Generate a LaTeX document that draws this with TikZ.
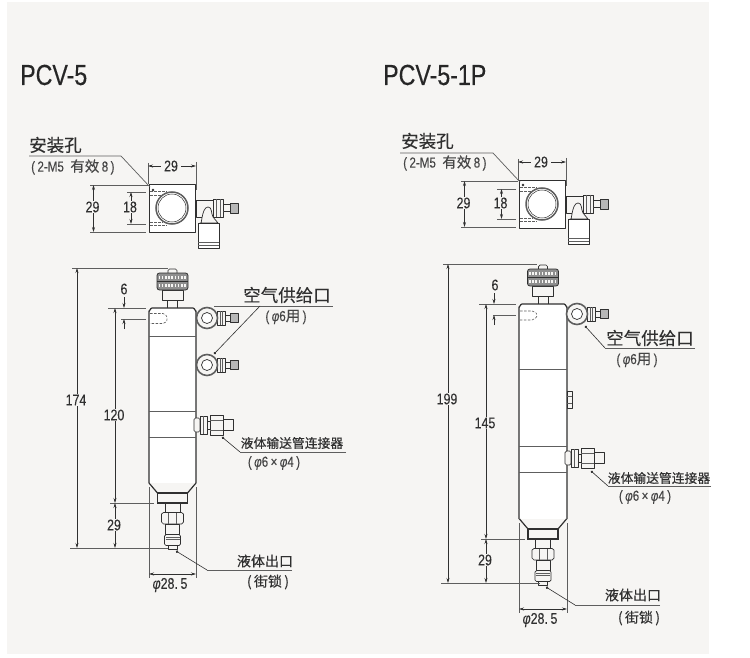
\documentclass[tikz,border=0pt]{standalone}
\usepackage{fontspec}
\setmainfont{Liberation Sans}
\newfontfamily\cjk{Noto Sans CJK SC}
\newfontfamily\cjkb[FakeBold=0.35]{Noto Sans CJK SC}
\newfontfamily\cjkm[FakeBold=0.15]{Noto Sans CJK SC}
\newfontfamily\titlefont[FakeStretch=0.8,FakeBold=0.25]{Liberation Sans}
\newfontfamily\narrow[FakeStretch=0.8,FakeBold=0.1]{Liberation Sans}
\usetikzlibrary{arrows.meta}
\definecolor{pagebg}{HTML}{F6F5F3}
\definecolor{ink}{HTML}{303030}
\definecolor{soft}{HTML}{5E5E5E}
\tikzset{
  x=1pt,y=-1pt,
  part/.style={draw=ink,line width=0.7pt,fill=pagebg,line join=round},
  partw/.style={draw=ink,line width=0.7pt,fill=white,line join=round},
  partg/.style={draw=ink,line width=0.7pt,fill=soft!45,line join=round},
  thin part/.style={draw=soft,line width=0.5pt},
  hidden/.style={draw=soft,line width=0.6pt,dash pattern=on 2.5pt off 1.5pt},
  ext/.style={draw=soft,line width=0.6pt},
  dimline/.style={draw=ink,line width=0.6pt,{Stealth[length=5pt,width=3pt]}-{Stealth[length=5pt,width=3pt]}},
  outarrow/.style={draw=ink,line width=0.6pt,-{Stealth[length=5pt,width=3pt]}},
  dimtext/.style={font=\narrow\fontsize{15.5}{16}\selectfont,text=ink,fill=pagebg,inner sep=1pt},
  title/.style={font=\titlefont\fontsize{29}{30}\selectfont,text=black!85,inner sep=0pt,anchor=west},
  bigcjk/.style={font=\cjkb\fontsize{17.5}{18}\selectfont,text=ink,inner sep=0pt},
  aircjk/.style={font=\cjkm\fontsize{17.5}{18}\selectfont,text=ink,inner sep=0pt},
  midcjk/.style={font=\cjkb\fontsize{12.8}{14}\selectfont,text=ink,inner sep=0pt},
  outcjk/.style={font=\cjkm\fontsize{14}{15}\selectfont,text=ink,inner sep=0pt},
  subtext/.style={font=\narrow\fontsize{14.5}{15}\selectfont,text=ink!90,inner sep=0pt},
  leader/.style={draw=soft,line width=0.9pt},
  leaderd/.style={draw=ink,line width=0.6pt,-{Circle[length=2.6pt]}},
}
\newcommand{\cj}[1]{{\cjkm\fontsize{14.5}{15}\selectfont #1}}
\newcommand{\phisym}{{\itshape φ}}
% top view: #1,#2 = upper left corner of the square
\newcommand{\topview}[2]{\begin{scope}[shift={(#1,#2)}]
  \draw[partw,line width=1pt] (0,0) rectangle (46.5,47);
  \draw[draw=soft,line width=1.5pt] (23,23) circle (16);
  \draw[draw=ink,line width=0.5pt] (23,23) circle (14);
  \draw[hidden] (1,6.5) -- (18,6.5) (1,10) -- (14,10) (1,37) -- (14,37) (1,40) -- (18,40);
  % elbow
  \draw[part] (47,15) -- (64,15) -- (64,32) -- (47,32) -- cycle;
  \draw[part] (64,14) rectangle (74,32);
  \draw[thin part] (67.5,14) -- (67.5,32) (71,14) -- (71,32);
  \draw[part] (74,19.5) rectangle (81,26.5);
  \draw[partg] (81,18) rectangle (89,28);
  \draw[part] (51,38) to[out=-75,in=180] (59,22) to[out=0,in=120] (64,32) -- (69,38) -- cycle;
  \draw[partw] (49,38) rectangle (70,63);
  \draw[thin part] (49,57) -- (70,57) (49,60) -- (70,60);
\end{scope}}
% knob: #1 = centre x, #2 = top of the body
\newcommand{\knob}[2]{\begin{scope}[shift={(#1,#2)}]
  \draw[part] (-5,-8) rectangle (5,0);
  \draw[part] (-10.5,-18) rectangle (10.5,-8);
  \draw[part,rounded corners=1.5pt] (-4.5,-39) rectangle (4.5,-33);
  \draw[draw=ink,line width=0.8pt,fill=soft!70,rounded corners=2.5pt] (-15.5,-35) rectangle (15.5,-18);
  \draw[draw=ink,line width=0.8pt] (-15.5,-26.5) -- (15.5,-26.5);
  \draw[draw=pagebg,line width=3pt,dash pattern=on 1.6pt off 1.6pt] (-14,-30.5) -- (14,-30.5) (-14,-22.5) -- (14,-22.5);
\end{scope}}
% nozzle: #1 = centre x, #2 = lower end of the cylinder
\newcommand{\nozzle}[2]{\begin{scope}[shift={(#1,#2)}]
  \draw[part] (-7.5,20) rectangle (7.5,32);
  \draw[part] (-11,31) -- (-9,29.5) -- (9,29.5) -- (11,31) -- (11,39) -- (9,41) -- (-9,41) -- (-11,39) -- cycle;
  \draw[thin part] (-4,30) -- (-4,41) (4,30) -- (4,41);
  \draw[part] (-7,41) rectangle (7,52);
  \draw[part] (-4.5,62) rectangle (4.5,66);
  \draw[part,rounded corners=1.5pt] (-8,51.5) rectangle (8,62.5);
  \draw[thin part] (-7,54.5) -- (7,54.5) (-7,56.5) -- (7,56.5);
  \draw[draw=ink,line width=1.2pt,fill=pagebg] (-23.5,0) -- (-15,10) -- (15,10) -- (23.5,0);
  \draw[draw=ink,line width=1.2pt,fill=pagebg] (-15,10) rectangle (15,20);
\end{scope}}
% air fitting: #1,#2 = centre of the ring
\newcommand{\airfit}[2]{\begin{scope}[shift={(#1,#2)}]
  \draw[part] (10,-7) rectangle (18,7);
  \draw[thin part] (13,-7) -- (13,7) (15.5,-7) -- (15.5,7);
  \draw[part] (18,-3) rectangle (23,3);
  \draw[partg] (23,-4.5) rectangle (31,4.5);
  \draw[draw=soft,line width=1.6pt,fill=pagebg] (0,0) circle (10.5);
  \draw[draw=ink,line width=0.7pt,fill=white] (0,0) circle (5.5);
\end{scope}}
% liquid fitting: #1,#2 = where it leaves the body
\newcommand{\liqfit}[2]{\begin{scope}[shift={(#1,#2)}]
  \draw[part] (28,-5.5) rectangle (38,5.5);
  \draw[part] (12,-4) rectangle (17,4);
  \draw[part,rounded corners=1.5pt] (-1,-7) rectangle (5,7);
  \draw[part] (5,-9) rectangle (12,9);
  \draw[thin part] (8.5,-9) -- (8.5,9);
  \draw[part] (15,-10) rectangle (28,10);
  \draw[thin part] (15,-5) -- (28,-5) (15,5) -- (28,5);
\end{scope}}
% vertical / horizontal dimensions
\newcommand{\vdimm}[6]{% name,x,y1,y2,label y,text
  \coordinate (#1a) at (#2,#3); \coordinate (#1b) at (#2,#4);
  \draw[dimline] (#1a) -- (#1b);
  \node[dimtext] (#1t) at (#2-1,#5) {#6};}
\newcommand{\hdimm}[6]{% name,y,x1,x2,label x,text
  \coordinate (#1a) at (#3,#2); \coordinate (#1b) at (#4,#2);
  \draw[dimline] (#1a) -- (#1b);
  \node[dimtext,inner xsep=3pt] (#1t) at (#5,#2) {#6};}
\begin{document}
\begin{tikzpicture}
\useasboundingbox (0,0) rectangle (750,658);
\fill[white] (0,0) rectangle (750,658);
\fill[pagebg] (7,2) rectangle (709,654);

% ================= left: PCV-5 =================
\node[title] (titleA) at (20,75) {PCV-5};

\topview{149}{185}
\foreach \nm/\xa/\ya/\xb/\yb in {a1/148/163/148/184,a2/196/162/196/190,a3/90/185/148/185,a4/90/232/146/232,a5/127/192/146/192,a6/127/224/146/224}{
  \coordinate (\nm s) at (\xa,\ya); \coordinate (\nm e) at (\xb,\yb);
  \draw[ext] (\nm s) -- (\nm e);}
\hdimm{Awid}{166}{148}{196}{171}{29}
\vdimm{Ahei}{93.5}{185}{232}{207}{29}
\vdimm{Ahol}{131}{192}{224}{207}{18}

\node[bigcjk,anchor=west] (holeA) at (29,145) {安装孔};
\node[subtext,anchor=west] (holeAs) at (31,167) {(\,2-M5\ \ \cj{有效}\,8\,)};
\coordinate (holeAl) at (29,156); \coordinate (holeAm) at (121,156); \coordinate (holeAe) at (150,187);
\draw[leader,line width=0.7pt] (holeAl) -- (holeAm) -- (holeAe);
\fill[ink] (holeAe) ++(3,3) circle (1.4);

% body
\knob{172.5}{308}
\draw[partw,line width=1.2pt] (149,483) -- (149,311) to[out=-90,in=180] (152,308) -- (193,308) to[out=0,in=-90] (196,311) -- (196,483);
\nozzle{172.5}{483}
\draw[hidden,rounded corners=2pt] (150,313.5) -- (165,313.5) -- (168,319) -- (165,323.5) -- (150,323.5);
\draw[thin part,line width=0.7pt] (149,336) -- (196,336) (149,411) -- (196,411) (149,437) -- (196,437);
\airfit{207}{318}
\airfit{207}{365}
\liqfit{195}{425}

% dims
\coordinate (A1s) at (72,268); \coordinate (A1e) at (168,268); \draw[ext] (A1s) -- (A1e);
\coordinate (A2s) at (70,548); \coordinate (A2e) at (168,548); \draw[ext] (A2s) -- (A2e);
\coordinate (A3s) at (108,308); \coordinate (A3e) at (146,308); \draw[ext] (A3s) -- (A3e);
\coordinate (A4s) at (121,319); \coordinate (A4e) at (146,319); \draw[ext] (A4s) -- (A4e);
\coordinate (A5s) at (110,503); \coordinate (A5e) at (154,503); \draw[ext] (A5s) -- (A5e);
\coordinate (A6s) at (149,487); \coordinate (A6e) at (149,578); \draw[ext] (A6s) -- (A6e);
\coordinate (A7s) at (196,487); \coordinate (A7e) at (196,578); \draw[ext] (A7s) -- (A7e);
\vdimm{Ah}{77}{268}{548}{400}{174}
\vdimm{Ab}{115}{308}{503}{415}{120}
\coordinate (Aw1) at (115,503); \coordinate (Aw2) at (115,548);
\draw[dimline] (Aw1) -- (Aw2);
\node[dimtext] (Aw) at (114,525) {29};
\coordinate (As1) at (124,297); \coordinate (As2) at (124,308); \coordinate (As3) at (124,329); \coordinate (As4) at (124,319);
\draw[outarrow] (As1) -- (As2); \draw[outarrow] (As3) -- (As4);
\node[dimtext,fill=none] (Ast) at (124,289) {6};
\coordinate (Ada) at (149,574); \coordinate (Adb) at (196,574);
\draw[dimline] (Ada) -- (Adb);
\node[dimtext,fill=none] (Adt) at (170,585) {\phisym 28.\,5};

% labels
\node[aircjk] (airA) at (287,295) {空气供给口};
\node[subtext] (airAs) at (286,317) {(\,\phisym 6\cj{用}\,)};
\coordinate (airAl) at (214,306); \coordinate (airAr) at (333,306); \coordinate (airAm) at (260,306); \coordinate (airAe) at (214,354);
\draw[leader] (airAl) -- (airAr);
\draw[leaderd] (airAm) -- (airAe);
\node[midcjk] (liqA) at (292,443) {液体输送管连接器};
\node[subtext] (liqAs) at (274,463) {(\,\phisym 6\,×\,\phisym 4\,)};
\coordinate (liqAr) at (346,452); \coordinate (liqAm) at (240,452); \coordinate (liqAe) at (222,437);
\draw[leader] (liqAr) -- (liqAm);
\draw[leaderd] (liqAm) -- (liqAe);
\node[outcjk] (outA) at (265,561) {液体出口};
\node[outcjk] (outAs) at (268,582) {(\,街锁\,)};
\coordinate (outAr) at (292,570); \coordinate (outAm) at (207,570); \coordinate (outAe) at (176,551);
\draw[leader] (outAr) -- (outAm);
\draw[leaderd] (outAm) -- (outAe);

% ================= right: PCV-5-1P =================
\node[title] (titleB) at (383,75) {PCV-5-1P};

\topview{519}{181}
\foreach \nm/\xa/\ya/\xb/\yb in {b1/518/159/518/180,b2/566/158/566/186,b3/461/181/518/181,b4/461/227/516/227,b5/497/189/516/189,b6/497/219/516/219}{
  \coordinate (\nm s) at (\xa,\ya); \coordinate (\nm e) at (\xb,\yb);
  \draw[ext] (\nm s) -- (\nm e);}
\hdimm{Bwid}{162}{518}{566}{541}{29}
\vdimm{Bhei}{464.5}{181}{227}{203}{29}
\vdimm{Bhol}{501.5}{189}{219}{203}{18}

\node[bigcjk,anchor=west] (holeB) at (401,141) {安装孔};
\node[subtext,anchor=west] (holeBs) at (403,163) {(\,2-M5\ \ \cj{有效}\,8\,)};
\coordinate (holeBl) at (400,153); \coordinate (holeBm) at (493,153); \coordinate (holeBe) at (520,182);
\draw[leader,line width=0.7pt] (holeBl) -- (holeBm) -- (holeBe);
\fill[ink] (holeBe) ++(3,3) circle (1.4);

\knob{543}{304}
\draw[partw,line width=1.2pt] (519,519) -- (519,307) to[out=-90,in=180] (522,304) -- (564,304) to[out=0,in=-90] (567,307) -- (567,519);
\nozzle{543}{519}
\draw[hidden,rounded corners=2pt] (520,311) -- (534,311) -- (538,315) -- (534,320) -- (520,320);
\draw[thin part,line width=0.7pt] (519,369) -- (567,369) (519,446) -- (567,446) (519,472) -- (567,472);
\draw[part] (567,391) rectangle (572,408);
\draw[thin part] (567,396) -- (572,396) (567,403) -- (572,403);
\airfit{577}{314}
\liqfit{566}{458}

\coordinate (B1s) at (443,264); \coordinate (B1e) at (537,264); \draw[ext] (B1s) -- (B1e);
\coordinate (B2s) at (441,583); \coordinate (B2e) at (540,583); \draw[ext] (B2s) -- (B2e);
\coordinate (B3s) at (479,304); \coordinate (B3e) at (516,304); \draw[ext] (B3s) -- (B3e);
\coordinate (B4s) at (493,315); \coordinate (B4e) at (516,315); \draw[ext] (B4s) -- (B4e);
\coordinate (B5s) at (481,539); \coordinate (B5e) at (525,539); \draw[ext] (B5s) -- (B5e);
\coordinate (B6s) at (519,523); \coordinate (B6e) at (519,613); \draw[ext] (B6s) -- (B6e);
\coordinate (B7s) at (567,523); \coordinate (B7e) at (567,613); \draw[ext] (B7s) -- (B7e);
\vdimm{Bh}{448}{264}{583}{399}{199}
\vdimm{Bb}{486}{304}{539}{423}{145}
\coordinate (Bw1) at (486,539); \coordinate (Bw2) at (486,583);
\draw[dimline] (Bw1) -- (Bw2);
\node[dimtext] (Bw) at (485,560) {29};
\coordinate (Bs1) at (494,293); \coordinate (Bs2) at (494,304); \coordinate (Bs3) at (494,325); \coordinate (Bs4) at (494,315);
\draw[outarrow] (Bs1) -- (Bs2); \draw[outarrow] (Bs3) -- (Bs4);
\node[dimtext,fill=none] (Bst) at (495,285) {6};
\coordinate (Bda) at (519,609); \coordinate (Bdb) at (567,609);
\draw[dimline] (Bda) -- (Bdb);
\node[dimtext,fill=none] (Bdt) at (540,620) {\phisym 28.\,5};

\node[aircjk] (airB) at (650,338) {空气供给口};
\node[subtext] (airBs) at (637,360) {(\,\phisym 6\cj{用}\,)};
\coordinate (airBl) at (605,348); \coordinate (airBr) at (695,348); \coordinate (airBe) at (585,326);
\draw[leader] (airBr) -- (airBl);
\draw[leaderd] (airBl) -- (airBe);
\node[midcjk] (liqB) at (659,478) {液体输送管连接器};
\node[subtext] (liqBs) at (645,497) {(\,\phisym 6\,×\,\phisym 4\,)};
\coordinate (liqBr) at (711,486); \coordinate (liqBl) at (608,486); \coordinate (liqBe) at (591,471);
\draw[leader] (liqBr) -- (liqBl);
\draw[leaderd] (liqBl) -- (liqBe);
\node[outcjk] (outB) at (633,595) {液体出口};
\node[outcjk] (outBs) at (639,618) {(\,街锁\,)};
\coordinate (outBr) at (660,605); \coordinate (outBm) at (575,605); \coordinate (outBe) at (546,587);
\draw[leader] (outBr) -- (outBm);
\draw[leaderd] (outBm) -- (outBe);
\end{tikzpicture}
\end{document}
